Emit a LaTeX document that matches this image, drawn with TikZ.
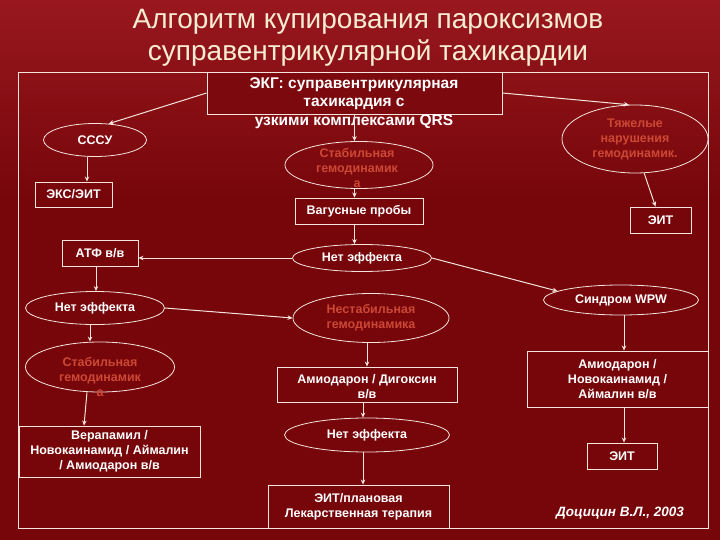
\documentclass[tikz,border=0pt]{standalone}
\usepackage{fontspec}
\setmainfont{Liberation Sans}
\usetikzlibrary{shapes.geometric,arrows.meta}
\definecolor{bg}{RGB}{118,6,10}
\definecolor{bgtop}{RGB}{152,24,30}
\definecolor{ln}{RGB}{244,228,220}
\definecolor{ttl}{RGB}{246,236,210}
\definecolor{rtxt}{RGB}{205,72,52}
\begin{document}
\begin{tikzpicture}[x=1pt,y=-1pt,
  box/.style={draw=ln, line width=0.9pt, rectangle, inner sep=0pt, text=white, align=center,
    font=\fontsize{12.5}{15}\selectfont\bfseries},
  ell/.style={draw=ln, line width=0.8pt, ellipse, inner sep=0pt, text=white, align=center,
    font=\fontsize{12.5}{15}\selectfont\bfseries},
  wtxt/.style={text=white, align=center, inner sep=0pt, font=\fontsize{12.5}{15}\selectfont\bfseries},
  rtxt/.style={text=rtxt, align=center, inner sep=0pt, font=\fontsize{12.5}{15}\selectfont\bfseries},
  arr/.style={draw=ln, line width=1pt, -{Stealth[length=5pt,width=4.5pt]}}]
\useasboundingbox (0,0) rectangle (720,540);
\fill[bg] (0,0) rectangle (720,540);
\shade[top color=bgtop, bottom color=bg] (0,0) rectangle (720,200);
% title
\node[text=ttl, font=\fontsize{28}{32}\selectfont, align=center] (title) at (368,38)
  {Алгоритм купирования пароксизмов\\суправентрикулярной тахикардии};
% frame
\draw[ln, line width=0.9pt] (18,72) rectangle (708,528);
% ECG
\node[box, fill=bg!85!bgtop, minimum width=295, minimum height=42] (ecg) at (354.5,93) {};
\node[wtxt, font=\fontsize{15.5}{18.5}\selectfont\bfseries] (ecgt) at (354,103)
  {ЭКГ: суправентрикулярная\\тахикардия с\\узкими комплексами QRS};
% left column
\node[ell, minimum width=103, minimum height=33] (sssu) at (95,140) {СССУ};
\node[box, minimum width=77, minimum height=25] (eks) at (73.5,194.5) {ЭКС/ЭИТ};
\node[box, minimum width=76, minimum height=26] (atf) at (100,253) {АТФ в/в};
\node[ell, minimum width=139, minimum height=33] (netL) at (95,308) {Нет эффекта};
\node[ell, minimum width=149, minimum height=50] (stabL) at (100,367) {};
\node[rtxt] (stabLt) at (100,377) {Стабильная\\гемодинамик\\а};
\node[box, minimum width=181, minimum height=51] (verap) at (109.5,451.5)
  {Верапамил /\\Новокаинамид / Аймалин\\/ Амиодарон в/в};
% middle column
\node[ell, minimum width=148, minimum height=47] (stab1) at (359,165) {};
\node[rtxt] (stab1t) at (357,168) {Стабильная\\гемодинамик\\а};
\node[box, minimum width=128, minimum height=26] (vag) at (359,211) {Вагусные пробы};
\node[ell, minimum width=139, minimum height=27] (net1) at (362,258) {Нет эффекта};
\node[ell, minimum width=156, minimum height=49] (nestab) at (371,318) {};
\node[rtxt] (nestabt) at (371,318) {Нестабильная\\гемодинамика};
\node[box, minimum width=180, minimum height=35] (amdig) at (367,384.5) {};
\node[wtxt] (amdigt) at (367,387) {Амиодарон / Дигоксин\\в/в};
\node[ell, minimum width=165, minimum height=34] (net3) at (367,435) {Нет эффекта};
\node[box, minimum width=181, minimum height=43] (plan) at (358.5,506.5)
  {ЭИТ/плановая\\Лекарственная терапия};
% right column
\node[ell, minimum width=146, minimum height=68] (tyazh) at (635,139) {};
\node[rtxt] (tyazht) at (635,139) {Тяжелые\\нарушения\\гемодинамик.};
\node[box, minimum width=61, minimum height=26] (eit1) at (660.5,220) {ЭИТ};
\node[ell, minimum width=155, minimum height=30] (wpw) at (621,300) {Синдром WPW};
\node[box, minimum width=181, minimum height=56] (amnov) at (617.5,379)
  {Амиодарон /\\Новокаинамид /\\Аймалин в/в};
\node[box, minimum width=70, minimum height=26] (eit2) at (622,456) {ЭИТ};
\node[text=white, font=\fontsize{13.5}{16}\selectfont\bfseries\itshape] (author) at (620,513)
  {Доцицин В.Л., 2003};
% connectors
\draw[arr] (ecg.west) -- (sssu.50);
\draw[arr] (ecg.east) -- (tyazh.100);
\draw[arr] ([xshift=-8pt]sssu.south) -- ([xshift=-8pt]sssu.south |- eks.north);
\draw[arr] (ecg.south) -- (ecg.south |- stab1.north);
\draw[arr] (ecg.south |- stab1.south) -- (ecg.south |- vag.north);
\draw[arr] (ecg.south |- vag.south) -- (ecg.south |- net1.north);
\draw[arr] (net1.west) -- (net1.west -| atf.east);
\draw[arr] (net1.east) -- (wpw.172);
\draw[arr] ([xshift=-4pt]atf.south) -- ([xshift=-4pt]atf.south |- netL.north);
\draw[arr] (netL.east) -- (nestab.west);
\draw[arr] ([xshift=-5pt]netL.south) -- ([xshift=-5pt]netL.south |- stabL.north);
\draw[arr] ([xshift=-13pt]stabL.south) -- ([xshift=-25.5pt]verap.north);
\draw[arr] (amdig.north |- nestab.south) -- (amdig.north);
\draw[arr] ([xshift=-4pt]amdig.south) -- ([xshift=-4pt]amdig.south |- net3.north);
\draw[arr] ([xshift=-4pt]net3.south) -- ([xshift=-4pt]net3.south |- plan.north);
\draw[arr] ([xshift=3pt]wpw.south) -- ([xshift=3pt]wpw.south |- amnov.north);
\draw[arr] ([xshift=2pt]eit2.north |- amnov.south) -- ([xshift=2pt]eit2.north);
\draw[arr] (tyazh.-75) -- ([xshift=-5pt]eit1.north);
\end{tikzpicture}
\end{document}
